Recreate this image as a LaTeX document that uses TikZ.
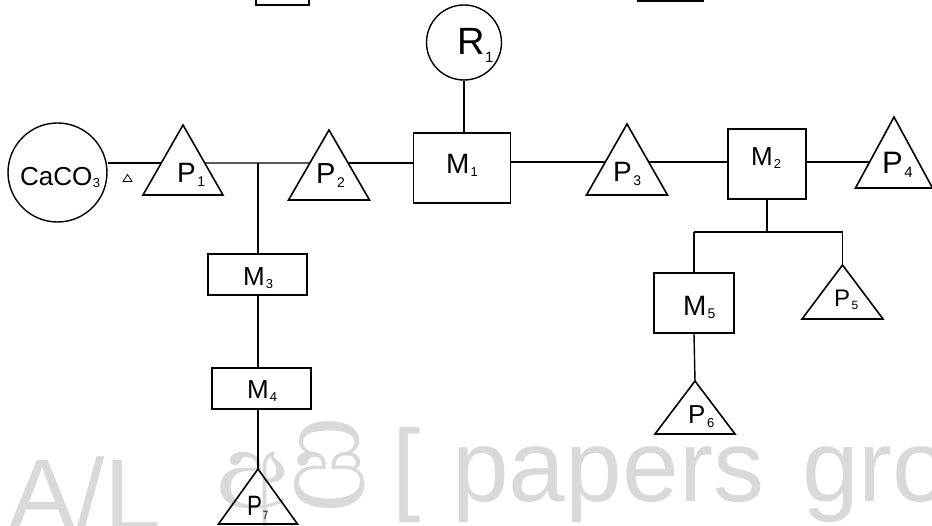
\documentclass[tikz,border=0pt]{standalone}
\usepackage{fontspec}
\setmainfont{Liberation Sans}
\newfontfamily\sinhalafont[Script=Sinhala]{Abhaya Libre}
\usetikzlibrary{calc}

% font size helper and a lowered index: size, gap, drop, text
\newcommand\fs[1]{\fontsize{#1}{#1}\selectfont}
\newcommand\idx[4]{\kern#2pt\raisebox{-#3pt}{\fs{#1}#4}}

% triangle: name, apex x, apex y, half width, height
\newcommand\tri[5]{%
  \coordinate (#1a) at (#2,#3);
  \coordinate (#1l) at ($(#1a)+(-#4,#5)$);
  \coordinate (#1r) at ($(#1a)+(#4,#5)$);
  \draw[triline] (#1a) -- (#1l) -- (#1r) -- cycle;}

\begin{document}
\begin{tikzpicture}[x=1pt,y=-1pt,
  conn/.style={line width=1.4pt},
  triline/.style={line width=1.6pt, line join=miter, fill=white},
  boxnode/.style={draw, line width=1.5pt, fill=white, inner sep=0pt},
  ring/.style={draw, circle, line width=1.4pt, fill=white, inner sep=0pt},
  lbl/.style={anchor=base west, inner sep=0pt},
  wm/.style={anchor=base west, inner sep=0pt, text=black, text opacity=0.15}]

\useasboundingbox (0,0) rectangle (932,526);
\clip (0,0) rectangle (932,526);

% edges of the boxes cut by the top border
\draw[line width=2.6pt] (256,-12) rectangle (309,5);
\draw[line width=2pt] (638,-12) rectangle (703,1);

% circles and boxes
\node[ring, minimum size=99pt] (caco3) at (57.5,172.5) {};
\node[ring, minimum size=75pt] (R1c) at (464,42.5) {};
\node[boxnode, minimum width=97pt, minimum height=70pt] (M1b) at (462,168) {};
\node[boxnode, minimum width=78pt, minimum height=70pt] (M2b) at (767,164) {};
\node[boxnode, minimum width=99pt, minimum height=41pt] (M3b) at (257.5,274.5) {};
\node[boxnode, minimum width=99pt, minimum height=41pt] (M4b) at (261.5,388.5) {};
\node[boxnode, minimum width=80pt, minimum height=60pt] (M5b) at (694,303) {};

% triangles
\tri{T1}{183}{125}{40}{70}
\tri{T2}{329}{130}{40.5}{70}
\tri{T3}{627}{124}{40.5}{71}
\tri{T4}{894}{117}{38.5}{71}
\tri{T5}{842.5}{265}{40.5}{54}
\tri{T6}{695}{381}{40}{53}
\tri{T7}{258}{469}{39.5}{55}

% points where the main line meets the triangle sides
\coordinate (T1w) at ($(T1a)!0.543!(T1l)$);
\coordinate (T1e) at ($(T1a)!0.543!(T1r)$);
\coordinate (T2w) at ($(T2a)!0.471!(T2l)$);
\coordinate (T2e) at ($(T2a)!0.471!(T2r)$);
\coordinate (T3w) at ($(T3a)!0.535!(T3l)$);
\coordinate (T3e) at ($(T3a)!0.535!(T3r)$);
\coordinate (T4w) at ($(T4a)!0.634!(T4l)$);
\coordinate (J1) at (258,163);
\coordinate (J2) at (767,232);

% heat sign
\draw[line width=0.8pt] (127.5,174.5) -- (123,181.5) -- (132,181.5) -- cycle;

% connectors
\draw[conn] (caco3.east |- T1w) -- (T1w);
\draw[conn] (T1e) -- (T2w);
\draw[conn] (J1) -- (J1 |- M3b.north);
\draw[conn] (J1 |- M3b.south) -- (J1 |- M4b.north);
\draw[conn] (J1 |- M4b.south) -- (T7a);
\draw[conn] (T2e) -- (T2e -| M1b.west);
\draw[conn] (R1c.south) -- (R1c.south |- M1b.north);
\draw[conn] (T3w -| M1b.east) -- (T3w);
\draw[conn] (T3e) -- (T3e -| M2b.west);
\draw[conn] (T4w -| M2b.east) -- (T4w);
\draw[conn] (M2b.south) -- (J2);
\draw[conn] (M5b.north |- J2) -- (T5a |- J2);
\draw[conn] (M5b.north |- J2) -- (M5b.north);
\draw[conn] (T5a |- J2) -- (T5a);
\draw[conn] (M5b.south) -- (T6a);

% labels
\node[lbl] (caco3t) at (20,186) {\fs{26}CaCO\idx{13}{0.5}{2}{3}};
\node[lbl] (R1) at (457,55) {\fs{38}R\idx{15}{0.5}{8}{1}};
\node[lbl] (M1) at (446,174) {\fs{28}M\idx{13}{1}{3}{1}};
\node[lbl] (M2) at (751,166) {\fs{26}M\idx{13}{1}{3}{2}};
\node[lbl] (M3) at (243,286) {\fs{26}M\idx{13}{1}{3}{3}};
\node[lbl] (M4) at (247,399) {\fs{26}M\idx{13}{1}{3}{4}};
\node[lbl] (M5) at (683,316) {\fs{28}M\idx{14}{1}{3}{5}};
\node[lbl] (P1) at (177,183) {\fs{28}P\idx{14}{1.5}{4}{1}};
\node[lbl] (P2) at (316,184) {\fs{29}P\idx{14}{1.5}{4}{2}};
\node[lbl] (P3) at (613,182) {\fs{28}P\idx{14}{1.5}{4}{3}};
\node[lbl] (P4) at (882,174) {\fs{31}P\idx{15}{1.5}{4}{4}};
\node[lbl] (P5) at (834,307) {\fs{24}P\idx{12}{1.5}{3}{5}};
\node[lbl] (P6) at (688,424) {\fs{26}P\idx{13}{1.5}{4}{6}};
\node[lbl, xscale=0.8] (P7) at (247,515) {\fs{28}P\idx{12}{1}{4}{7}};

% watermark
\node[wm] (wmA) at (8,530) {\fs{102}A/L};
\node[wm] (wmB) at (216,508) {\fs{136}\sinhalafont අපි};
\node[wm] (wmC) at (392,501) {\fs{102}[};
\node[wm] (wmD) at (452,501) {\fs{102}papers};
\node[wm] (wmE) at (802,501) {\fs{102}group ]};
\end{tikzpicture}
\end{document}
